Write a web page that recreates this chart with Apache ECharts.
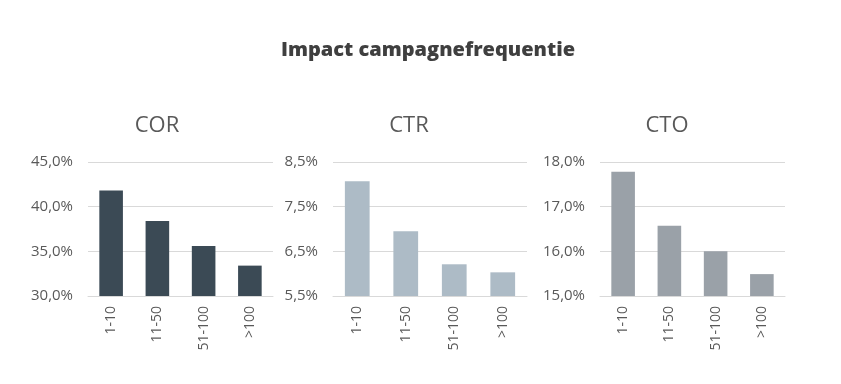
<!DOCTYPE html>
<html><head><meta charset="utf-8">
<script src="https://cdn.jsdelivr.net/npm/echarts@6/dist/echarts.min.js"></script>
<style>html,body{margin:0;padding:0;background:#fff}#c{width:841px;height:384px}</style>
</head><body><div id="c"></div>
<script>
var categories = ['1-10', '11-50', '51-100', '>100'];
var corValues = [41.8, 38.4, 35.6, 33.4];
var ctrValues = [8.07, 6.95, 6.21, 6.03];
var ctoValues = [17.78, 16.57, 16.0, 15.49];
var panelTitles = ['COR', 'CTR', 'CTO'];
var mainTitle = 'Impact campagnefrequentie';
var yRanges = [[30, 45, 5], [5.5, 8.5, 1], [15, 18, 1]];
var colors = ['#3b4a55', '#adbbc6', '#9aa1a8'];

var grids = [
  {left: 88, top: 162, width: 185, height: 134},
  {left: 333, top: 162, width: 194, height: 134},
  {left: 600, top: 162, width: 185, height: 134}
];
var titleX = [152, 404, 662];
var values = [corValues, ctrValues, ctoValues];
var fmt = function (v) { return v.toFixed(1).replace('.', ',') + '%'; };

var option = {
  animation: false,
  title: [{
    text: mainTitle, left: 423, top: 35, textAlign: 'center',
    textStyle: {fontFamily: 'Open Sans', fontWeight: 800, fontSize: 20, color: '#3f3f3f'}
  }].concat(panelTitles.map(function (t, i) {
    return {text: t, left: titleX[i], top: 110, textAlign: 'center',
      textStyle: {fontFamily: 'Open Sans', fontWeight: 'normal', fontSize: 22, color: '#595959'}};
  })),
  grid: grids,
  xAxis: grids.map(function (g, i) {
    return {type: 'category', gridIndex: i, data: categories,
      axisLine: {lineStyle: {color: '#d9d9d9', width: 1}}, axisTick: {show: false},
      axisLabel: {rotate: 90, margin: 10, fontFamily: 'Open Sans', fontSize: 14, color: '#595959'}};
  }),
  yAxis: grids.map(function (g, i) {
    return {type: 'value', gridIndex: i, min: yRanges[i][0], max: yRanges[i][1], interval: yRanges[i][2],
      axisLine: {show: false}, axisTick: {show: false},
      splitLine: {lineStyle: {color: '#d9d9d9', width: 1}},
      axisLabel: {margin: 15, fontFamily: 'Open Sans', fontSize: 15, color: '#595959', formatter: fmt}};
  }),
  series: values.map(function (v, i) {
    return {type: 'bar', xAxisIndex: i, yAxisIndex: i, data: v, barCategoryGap: '49%',
      itemStyle: {color: colors[i]}};
  })
};
echarts.init(document.getElementById('c')).setOption(option);
</script></body></html>
